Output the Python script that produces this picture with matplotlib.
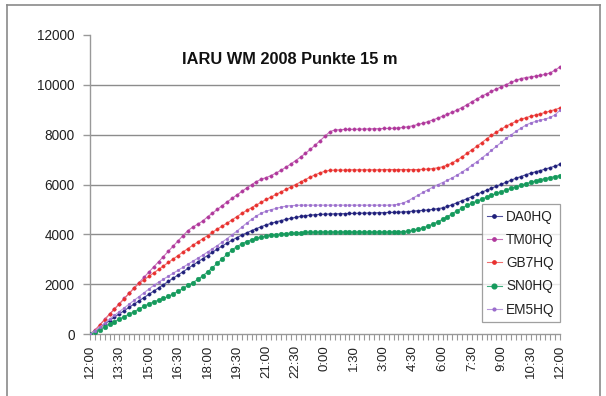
import matplotlib
matplotlib.use("Agg")
import matplotlib.pyplot as plt
from matplotlib.lines import Line2D
import numpy as np

plt.rcParams['font.family'] = ['Liberation Sans', 'DejaVu Sans']

title = "IARU WM 2008 Punkte 15 m"
tick_labels = ["12:00", "13:30", "15:00", "16:30", "18:00", "19:30", "21:00", "22:30",
               "0:00", "1:30", "3:00", "4:30", "6:00", "7:30", "9:00", "10:30", "12:00"]
series_names = ["DA0HQ", "TM0HQ", "GB7HQ", "SN0HQ", "EM5HQ"]

DA0HQ = [0, 110, 250, 400, 540, 680, 810, 940, 1070, 1200, 1330, 1460, 1590, 1720, 1850, 1980,
         2110, 2240, 2370, 2500, 2630, 2760, 2890, 3020, 3150, 3280, 3410, 3530, 3650, 3760, 3870, 3970,
         4060, 4150, 4230, 4310, 4380, 4440, 4500, 4550, 4600, 4640, 4680, 4720, 4750, 4770, 4790, 4800,
         4810, 4820, 4820, 4830, 4830, 4840, 4840, 4850, 4850, 4860, 4860, 4870, 4870, 4880, 4880, 4890,
         4900, 4910, 4930, 4950, 4960, 4980, 5000, 5030, 5060, 5120, 5190, 5270, 5350, 5430, 5510, 5600,
         5690, 5770, 5850, 5930, 6010, 6090, 6170, 6250, 6320, 6390, 6450, 6510, 6560, 6620, 6680, 6740,
         6810]

TM0HQ = [0, 150, 370, 590, 800, 1010, 1220, 1430, 1640, 1850, 2060, 2270, 2480, 2690, 2900, 3110,
         3320, 3530, 3740, 3950, 4150, 4290, 4410, 4530, 4700, 4850, 5000, 5150, 5300, 5440, 5580, 5720,
         5860, 5990, 6120, 6210, 6280, 6360, 6460, 6570, 6690, 6820, 6960, 7100, 7250, 7410, 7580, 7760,
         7940, 8120, 8190, 8200, 8210, 8210, 8220, 8220, 8230, 8230, 8240, 8240, 8250, 8250, 8260, 8270,
         8290, 8320, 8360, 8410, 8460, 8520, 8590, 8660, 8740, 8820, 8900, 8990, 9090, 9200, 9320, 9430,
         9540, 9640, 9740, 9830, 9920, 10010, 10100, 10180, 10250, 10290, 10320, 10350, 10380, 10420, 10480, 10590,
         10720]

GB7HQ = [0, 140, 360, 580, 790, 1000, 1210, 1420, 1630, 1840, 2030, 2170, 2310, 2450, 2590, 2730,
         2870, 3010, 3150, 3290, 3430, 3560, 3690, 3820, 3950, 4080, 4210, 4330, 4450, 4580, 4710, 4840,
         4960, 5070, 5180, 5290, 5400, 5500, 5600, 5700, 5800, 5900, 6000, 6100, 6200, 6300, 6390, 6470,
         6530, 6570, 6580, 6580, 6580, 6590, 6590, 6590, 6590, 6590, 6590, 6590, 6600, 6600, 6600, 6600,
         6600, 6600, 6600, 6600, 6610, 6620, 6640, 6670, 6710, 6780, 6870, 6980, 7110, 7250, 7390, 7530,
         7680, 7830, 7970, 8100, 8220, 8340, 8440, 8530, 8610, 8680, 8740, 8790, 8840, 8890, 8950, 9010,
         9070]

SN0HQ = [0, 80, 180, 290, 400, 500, 600, 700, 800, 900, 1000, 1110, 1210, 1290, 1360, 1430,
         1510, 1610, 1720, 1830, 1950, 2060, 2190, 2330, 2490, 2660, 2840, 3020, 3200, 3370, 3510, 3620,
         3710, 3780, 3840, 3890, 3930, 3960, 3990, 4010, 4030, 4050, 4060, 4070, 4080, 4080, 4080, 4090,
         4090, 4090, 4090, 4090, 4090, 4090, 4090, 4090, 4090, 4090, 4090, 4090, 4090, 4090, 4095, 4100,
         4110, 4130, 4160, 4200, 4260, 4330, 4410, 4500, 4600, 4710, 4830, 4950, 5060, 5160, 5250, 5330,
         5410, 5490, 5570, 5640, 5710, 5780, 5850, 5910, 5970, 6030, 6090, 6140, 6190, 6240, 6280, 6320,
         6360]

EM5HQ = [0, 120, 280, 440, 600, 750, 900, 1050, 1200, 1350, 1500, 1650, 1800, 1950, 2080, 2200,
         2320, 2440, 2560, 2680, 2800, 2920, 3040, 3160, 3290, 3420, 3550, 3690, 3830, 3980, 4130, 4290,
         4450, 4600, 4740, 4850, 4930, 4990, 5040, 5090, 5130, 5150, 5160, 5170, 5170, 5170, 5170, 5170,
         5170, 5170, 5170, 5170, 5170, 5170, 5170, 5170, 5170, 5170, 5170, 5170, 5170, 5170, 5180, 5210,
         5260, 5350, 5460, 5570, 5680, 5790, 5890, 5990, 6080, 6170, 6270, 6380, 6500, 6630, 6770, 6910,
         7060, 7210, 7370, 7530, 7690, 7850, 7990, 8130, 8260, 8380, 8470, 8530, 8580, 8630, 8690, 8800,
         8980]

colors = {"DA0HQ": "#1f1f7a", "TM0HQ": "#b0389c", "GB7HQ": "#e8302e",
          "SN0HQ": "#159a5c", "EM5HQ": "#9a6ccc"}
line_colors = {"DA0HQ": "#5050a0", "TM0HQ": "#c870b8", "GB7HQ": "#f07070",
               "SN0HQ": "#40b080", "EM5HQ": "#b898dc"}
msizes = {"DA0HQ": 2.4, "TM0HQ": 2.4, "GB7HQ": 2.4, "SN0HQ": 3.4, "EM5HQ": 2.0}

data = {"DA0HQ": DA0HQ, "TM0HQ": TM0HQ, "GB7HQ": GB7HQ, "SN0HQ": SN0HQ, "EM5HQ": EM5HQ}

W, H = 606, 396
fig = plt.figure(figsize=(W / 100, H / 100), dpi=100)
fig.patch.set_facecolor("white")

ax = fig.add_axes([90 / W, 1 - 334 / H, (560 - 90) / W, (334 - 35) / H])

grid_c = "#8c8c8c"
for name in series_names:
    y = np.array(data[name])
    x = np.arange(len(y))
    ax.plot(x, y, color=line_colors[name], lw=0.8, marker="o", ms=msizes[name],
            mfc=colors[name], mec=colors[name], mew=0.3, zorder=3)

n = len(DA0HQ)
ax.set_xlim(0, n - 1)
ax.set_ylim(0, 12000)
ax.set_yticks(np.arange(0, 12001, 2000))
ax.set_yticklabels([str(v) for v in range(0, 12001, 2000)])
ax.set_xticks(np.arange(0, n, 6))
ax.set_xticklabels(tick_labels, rotation=90)
ax.set_xticks(np.arange(0, n, 1), minor=True)

ax.yaxis.grid(True, color=grid_c, lw=1.0, zorder=0)
ax.get_ygridlines()[-1].set_visible(False)
ax.get_ygridlines()[0].set_visible(False)
ax.set_axisbelow(True)

for s in ["top", "right"]:
    ax.spines[s].set_visible(False)
for s in ["left", "bottom"]:
    ax.spines[s].set_color("#999999")
    ax.spines[s].set_linewidth(1.0)

ax.tick_params(axis="y", length=5, width=1.0, color="#999999", labelsize=9.8,
               labelcolor="#222222", pad=6)
ax.tick_params(axis="x", which="major", length=4, width=0.8, color="#999999",
               labelsize=9.5, labelcolor="#222222", pad=4)
ax.tick_params(axis="x", which="minor", length=4, width=0.8, color="#999999")

fig.text(290 / W, 1 - 64 / H, title, ha="center", va="baseline",
         fontsize=11.8, fontweight="bold", color="#111111")

handles = [Line2D([0], [0], color=line_colors[nm], lw=0.8, marker="o", ms=msizes[nm],
                  mfc=colors[nm], mec=colors[nm]) for nm in series_names]
leg = fig.legend(handles, series_names, loc="lower right",
                 bbox_to_anchor=(560 / W, 1 - 322 / H), bbox_transform=fig.transFigure,
                 fontsize=9.8, frameon=True, fancybox=False, shadow=False,
                 borderpad=0.4, labelspacing=0.68, handlelength=1.1, handletextpad=0.3,
                 borderaxespad=0.0)
leg.get_frame().set_edgecolor("#888888")
leg.get_frame().set_linewidth(0.9)
for t in leg.get_texts():
    t.set_color("#222222")

# outer frame lines
frame_c = "#8a8a8a"
fig.add_artist(Line2D([7 / W, 600 / W], [1 - 5 / H, 1 - 5 / H], color=frame_c, lw=1.2,
                      transform=fig.transFigure))
fig.add_artist(Line2D([7 / W, 7 / W], [1 - 5 / H, 0], color=frame_c, lw=1.2,
                      transform=fig.transFigure))
fig.add_artist(Line2D([600 / W, 600 / W], [1 - 5 / H, 0], color=frame_c, lw=1.2,
                      transform=fig.transFigure))

fig.savefig("out.png", dpi=100)
